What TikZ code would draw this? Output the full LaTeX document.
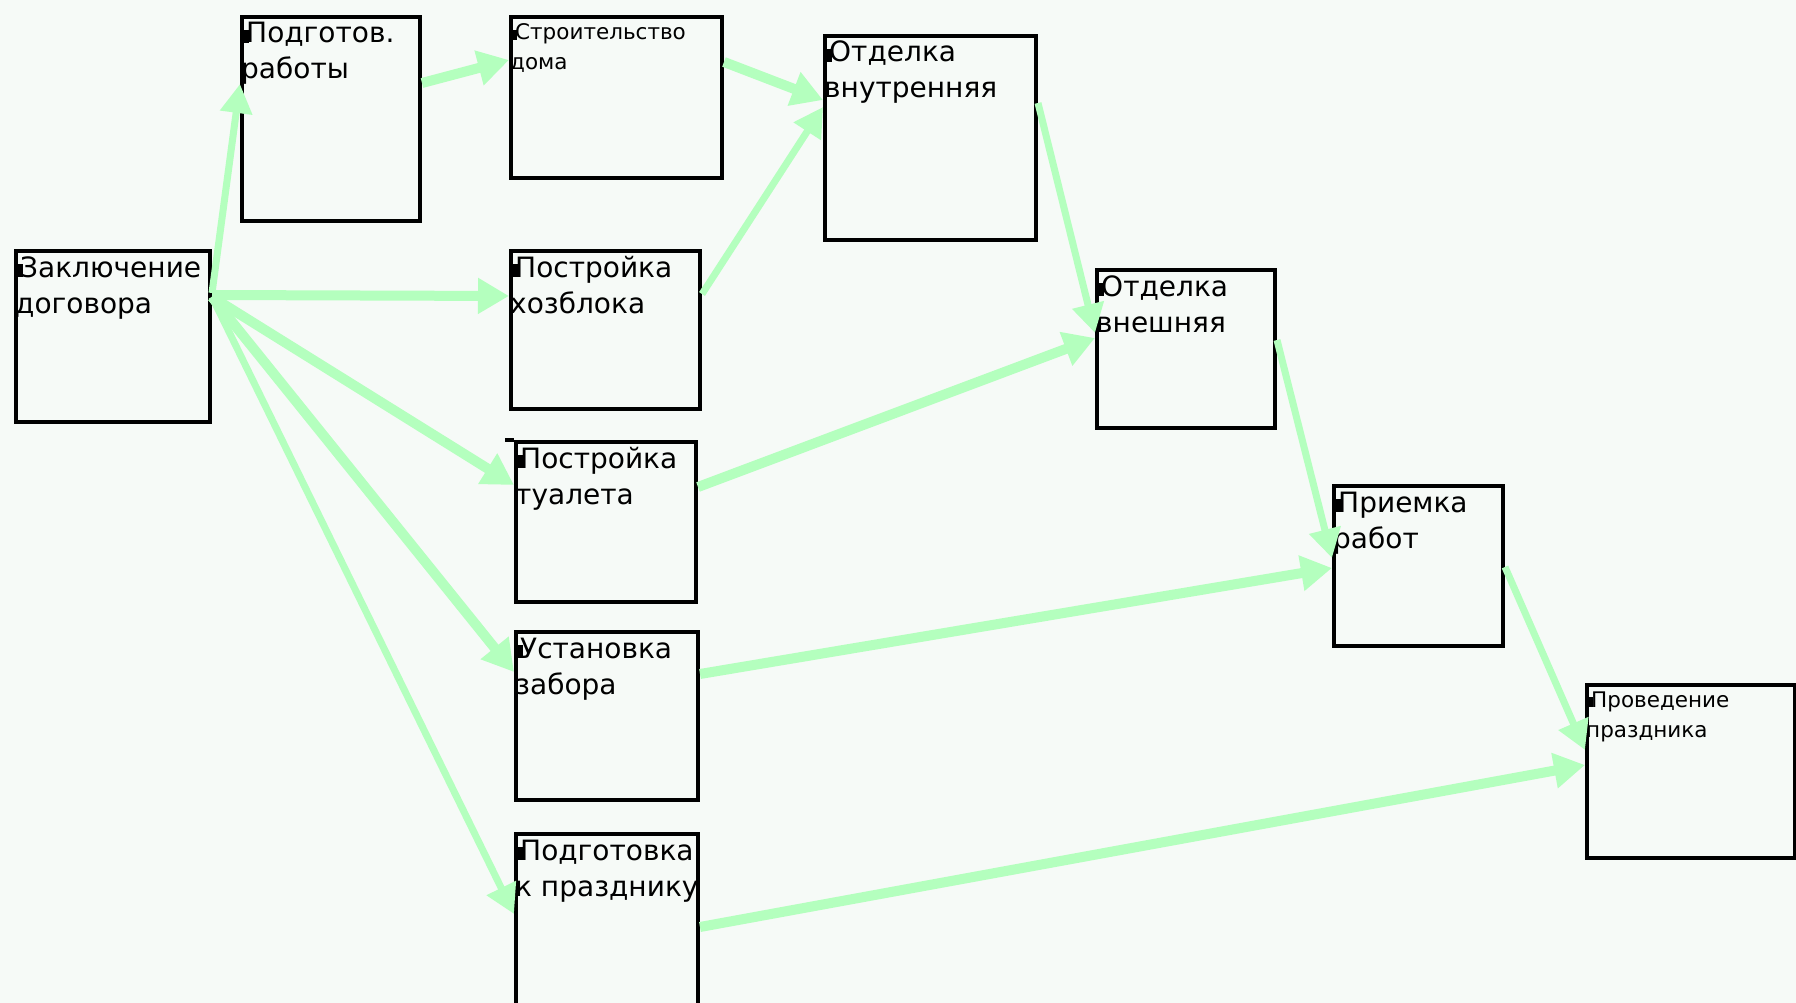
\documentclass[tikz,border=0pt]{standalone}
\usepackage{fontspec}
\setmainfont{DejaVu Sans}
\usetikzlibrary{arrows.meta}
\definecolor{bgc}{RGB}{246,250,247}
\definecolor{arrc}{RGB}{180,255,190}
\newcommand\bigtxt[2]{\parbox[t]{300pt}{\raggedright\fontsize{28}{36}\selectfont\rule{8pt}{13pt}\kern-3pt #1\\#2}}
\newcommand\smalltxt[2]{\parbox[t]{300pt}{\raggedright\fontsize{21.5}{30}\selectfont\rule{7pt}{10pt}\kern-2pt #1\\#2}}
\tikzset{
  box/.style={draw=black, line width=4pt, inner sep=0pt, anchor=north west},
  lbl/.style={anchor=base west, inner sep=0pt},
  conn/.style={draw=arrc, line width=10pt, -{Triangle[length=31pt,width=34pt]}},
  connthin/.style={draw=arrc, line width=7pt, -{Triangle[length=29pt,width=31pt]}},
}
\begin{document}
\begin{tikzpicture}[x=1pt,y=-1pt]
\useasboundingbox (0,0) rectangle (1796,1003);
\fill[bgc] (0,0) rectangle (1796,1003);
\clip (0,0) rectangle (1796,1003);

% boxes
\node[box, minimum width=194pt, minimum height=171pt] (A) at (14,249) {};
\node[box, minimum width=178pt, minimum height=204pt] (B) at (240,15) {};
\node[box, minimum width=211pt, minimum height=161pt] (C) at (509,15) {};
\node[box, minimum width=189pt, minimum height=158pt] (D) at (509,249) {};
\node[box, minimum width=180pt, minimum height=160pt] (E) at (514,440) {};
\node[box, minimum width=182pt, minimum height=168pt] (F) at (514,630) {};
\node[box, minimum width=182pt, minimum height=190pt] (G) at (514,832) {};
\node[box, minimum width=211pt, minimum height=204pt] (H) at (823,34) {};
\node[box, minimum width=178pt, minimum height=158pt] (I) at (1095,268) {};
\node[box, minimum width=169pt, minimum height=160pt] (J) at (1332,484) {};
\node[box, minimum width=208pt, minimum height=173pt] (K) at (1585,683) {};
\draw[line width=4pt] (E.north west) -- ++(-9,0);

% labels
\node[lbl] (At) at ([xshift=1pt,yshift=-28pt]A.north west) {\bigtxt{Заключение}{договора}};
\node[lbl] (Bt) at ([xshift=1pt,yshift=-28pt]B.north west) {\bigtxt{Подготов.}{работы}};
\node[lbl] (Ct) at ([xshift=1pt,yshift=-25pt]C.north west) {\smalltxt{Строительство}{дома}};
\node[lbl] (Dt) at ([xshift=1pt,yshift=-28pt]D.north west) {\bigtxt{Постройка}{хозблока}};
\node[lbl] (Et) at ([xshift=1pt,yshift=-28pt]E.north west) {\bigtxt{Постройка}{туалета}};
\node[lbl] (Ft) at ([xshift=1pt,yshift=-28pt]F.north west) {\bigtxt{Установка}{забора}};
\node[lbl] (Gt) at ([xshift=1pt,yshift=-28pt]G.north west) {\bigtxt{Подготовка}{к празднику}};
\node[lbl] (Ht) at ([xshift=1pt,yshift=-28pt]H.north west) {\bigtxt{Отделка}{внутренняя}};
\node[lbl] (It) at ([xshift=1pt,yshift=-28pt]I.north west) {\bigtxt{Отделка}{внешняя}};
\node[lbl] (Jt) at ([xshift=1pt,yshift=-28pt]J.north west) {\bigtxt{Приемка}{работ}};
\node[lbl] (Kt) at ([xshift=1pt,yshift=-24pt]K.north west) {\smalltxt{Проведение}{праздника}};

% connectors
\draw[connthin] ([yshift=-44pt]A.north east) -- ([yshift=-69pt]B.north west);
\draw[conn] ([yshift=-46pt]A.north east) -- ([yshift=-47pt]D.north west);
\draw[conn] ([yshift=-48pt]A.north east) -- ([yshift=-45pt]E.north west);
\draw[conn] ([yshift=-48pt]A.north east) -- ([yshift=-42pt]F.north west);
\draw[connthin] ([yshift=-48pt]A.north east) -- ([yshift=-82pt]G.north west);
\draw[conn] ([yshift=-68pt]B.north east) -- ([yshift=-45pt]C.north west);
\draw[conn] ([yshift=-47pt]C.north east) -- ([yshift=-66pt]H.north west);
\draw[connthin] ([yshift=-45pt]D.north east) -- ([yshift=-73pt]H.north west);
\draw[connthin] ([yshift=-69pt]H.north east) -- ([yshift=-65pt]I.north west);
\draw[conn] ([yshift=-47pt]E.north east) -- ([yshift=-70pt]I.north west);
\draw[connthin] ([yshift=-72pt]I.north east) -- ([yshift=-74pt]J.north west);
\draw[conn] ([yshift=-44pt]F.north east) -- ([yshift=-84pt]J.north west);
\draw[connthin] ([yshift=-83pt]J.north east) -- ([yshift=-67pt]K.north west);
\draw[conn] ([yshift=-95pt]G.north east) -- ([yshift=-82pt]K.north west);
\end{tikzpicture}
\end{document}
